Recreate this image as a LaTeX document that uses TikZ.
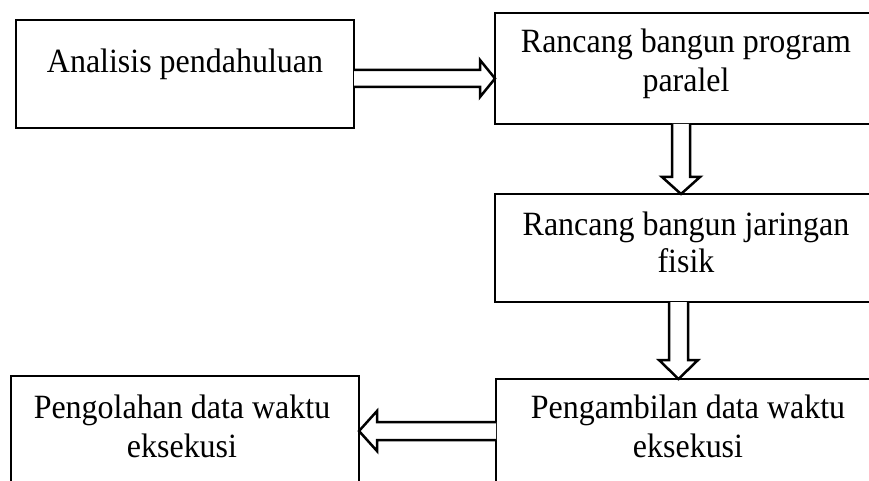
\documentclass[tikz,border=0pt]{standalone}
\usepackage{fontspec}
\setmainfont{Liberation Serif}
\begin{document}
\begin{tikzpicture}[x=1pt,y=-1pt,
  box/.style={draw=black,line width=2.8pt,rectangle,inner sep=0pt,outer sep=0pt},
  lbl/.style={anchor=base,inner sep=0pt,xscale=0.94,transform shape,font=\fontsize{34}{40}\selectfont},
  arr/.style={draw=black,line width=2.5pt,line join=miter,fill=white}]
\useasboundingbox (0,0) rectangle (869,481);
\clip (0,0) rectangle (869,481);
% boxes
\node[box,minimum width=338pt,minimum height=108pt] (b1) at (185,74) {};
\node[box,minimum width=385pt,minimum height=111pt] (b2) at (687.5,68.5) {};
\node[box,minimum width=385pt,minimum height=108pt] (b3) at (687.5,248) {};
\node[box,minimum width=384pt,minimum height=116pt] (b4) at (688,437) {};
\node[box,minimum width=348pt,minimum height=119pt] (b5) at (185,435.5) {};
% texts
\node[lbl] (t1) at (185,73) {Analisis pendahuluan};
\node[lbl] (t2a) at (686,53) {Rancang bangun program};
\node[lbl] (t2b) at (686,92) {paralel};
\node[lbl] (t3a) at (686,235) {Rancang bangun jaringan};
\node[lbl] (t3b) at (686,272) {fisik};
\node[lbl] (t4a) at (688,418) {Pengambilan data waktu};
\node[lbl] (t4b) at (688,457) {eksekusi};
\node[lbl] (t5a) at (182,418) {Pengolahan data waktu};
\node[lbl] (t5b) at (182,457) {eksekusi};
% hollow arrows
\draw[arr] (b1.east |- 0,70) -- (480,70) -- (480,60) -- (b2.west |- 0,78.5)
  -- (480,97) -- (480,87) -- (b1.east |- 0,87);
\draw[arr] (672,0 |- b2.south) -- (672,177) -- (662,177) -- (681,0 |- b3.north)
  -- (700,177) -- (690,177) -- (690,0 |- b2.south);
\draw[arr] (669,0 |- b3.south) -- (669,360) -- (659,360) -- (678.5,0 |- b4.north)
  -- (698,360) -- (688,360) -- (688,0 |- b3.south);
\draw[arr] (b4.west |- 0,422) -- (377,422) -- (377,411) -- (b5.east |- 0,431)
  -- (377,451) -- (377,440) -- (b4.west |- 0,440);
\end{tikzpicture}
\end{document}
